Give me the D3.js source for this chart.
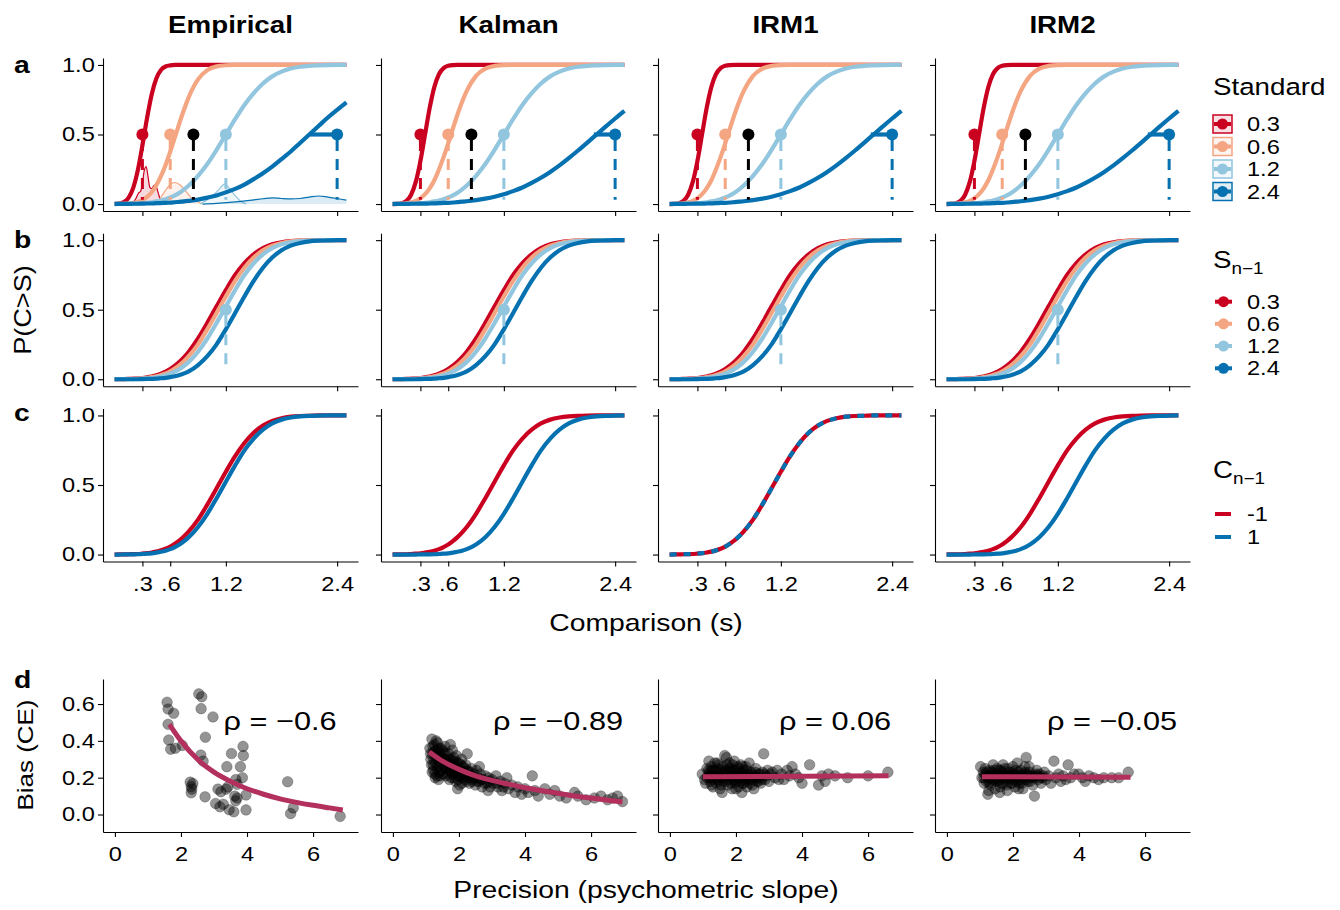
<!DOCTYPE html>
<html>
<head>
<meta charset="utf-8">
<script src="https://cdn.jsdelivr.net/npm/d3@7"></script>
<style>
  body { margin: 0; background: #fff; }
  svg text { font-family: "Liberation Sans", Arial, Helvetica, sans-serif; fill: #000; }
  .axis path, .axis line { stroke: #000; stroke-width: 1.1; }
</style>
</head>
<body>
<svg id="chart" width="1340" height="910"></svg>
<script>
// ---- data ----
const models = ["Empirical", "Kalman", "IRM1", "IRM2"];
const rowLetters = ["a", "b", "c", "d"];
const standards = [0.3, 0.6, 1.2, 2.4];
const standardLabels = ["0.3", "0.6", "1.2", "2.4"];
const stdTickLabels = [".3", ".6", "1.2", "2.4"];
const prevLabels = ["-1", "1"];
const palette = ["#ca0020", "#f4a582", "#92c5de", "#0571b0"];
const geoMean = 0.85; // black reference point

// comparison durations where the curves were sampled
const comparison = [0, 0.05, 0.1, 0.15, 0.2, 0.25, 0.3, 0.35, 0.4, 0.45, 0.5, 0.55, 0.6, 0.65, 0.7, 0.75, 0.8,
  0.9, 1.0, 1.1, 1.2, 1.3, 1.4, 1.5, 1.6, 1.7, 1.8, 1.9, 2.0, 2.1, 2.2, 2.3, 2.4, 2.5];

// row a, empirical P(C>S) per standard
const pEmp03 = [0.001, 0.003, 0.014, 0.045, 0.115, 0.242, 0.421, 0.618, 0.788, 0.903, 0.964, 0.989, 0.997, 1, 1, 1, 1,
  1, 1, 1, 1, 1, 1, 1, 1, 1, 1, 1, 1, 1, 1, 1, 1, 1];
const pEmp06 = [0, 0.001, 0.002, 0.004, 0.008, 0.015, 0.029, 0.052, 0.085, 0.135, 0.2, 0.281, 0.376, 0.479, 0.583, 0.681, 0.769,
  0.896, 0.963, 0.99, 0.998, 1, 1, 1, 1, 1, 1, 1, 1, 1, 1, 1, 1, 1];
const pEmp12 = [0, 0.001, 0.001, 0.002, 0.003, 0.004, 0.006, 0.009, 0.013, 0.019, 0.026, 0.035, 0.048, 0.063, 0.082, 0.106, 0.133,
  0.203, 0.288, 0.39, 0.5, 0.61, 0.712, 0.797, 0.867, 0.918, 0.952, 0.974, 0.987, 0.994, 0.997, 0.999, 1, 1];
const pEmp24 = [0.001, 0.001, 0.001, 0.001, 0.002, 0.002, 0.003, 0.004, 0.004, 0.006, 0.007, 0.009, 0.01, 0.013, 0.016, 0.019, 0.023,
  0.032, 0.046, 0.062, 0.084, 0.109, 0.14, 0.179, 0.221, 0.269, 0.323, 0.378, 0.439, 0.5, 0.561, 0.622, 0.677, 0.731];

// row a, model fits (same for Kalman, IRM1, IRM2)
const pMod03 = [0, 0.001, 0.006, 0.023, 0.067, 0.159, 0.309, 0.5, 0.691, 0.841, 0.933, 0.977, 0.994, 0.999, 1, 1, 1,
  1, 1, 1, 1, 1, 1, 1, 1, 1, 1, 1, 1, 1, 1, 1, 1, 1];
const pMod06 = [0, 0.001, 0.003, 0.006, 0.012, 0.023, 0.041, 0.071, 0.113, 0.171, 0.248, 0.337, 0.436, 0.542, 0.644, 0.736, 0.813,
  0.922, 0.974, 0.993, 0.999, 1, 1, 1, 1, 1, 1, 1, 1, 1, 1, 1, 1, 1];
const pMod24 = [0.001, 0.001, 0.001, 0.001, 0.002, 0.002, 0.003, 0.003, 0.004, 0.005, 0.006, 0.008, 0.009, 0.011, 0.014, 0.017, 0.02,
  0.028, 0.039, 0.053, 0.071, 0.093, 0.119, 0.152, 0.189, 0.231, 0.278, 0.33, 0.385, 0.442, 0.5, 0.558, 0.615, 0.67];

// PSE (curve at 0.5) per standard
const pseEmp = [0.32, 0.66, 1.2, 2.11];
const pseMod = [0.35, 0.63, 1.2, 2.17];

// row b, split by previous standard S(n-1)
const pPrev03 = [0.001, 0.001, 0.001, 0.002, 0.004, 0.006, 0.009, 0.014, 0.02, 0.028, 0.039, 0.054, 0.073, 0.097, 0.125, 0.159, 0.198,
  0.293, 0.405, 0.524, 0.641, 0.749, 0.834, 0.898, 0.943, 0.97, 0.985, 0.993, 0.997, 0.999, 1, 1, 1, 1];
const pPrev06 = [0, 0.001, 0.001, 0.002, 0.003, 0.004, 0.007, 0.01, 0.015, 0.021, 0.03, 0.042, 0.057, 0.078, 0.102, 0.131, 0.166,
  0.251, 0.359, 0.476, 0.595, 0.707, 0.802, 0.875, 0.927, 0.961, 0.98, 0.991, 0.996, 0.998, 1, 1, 1, 1];
const pPrev12 = [0, 0, 0.001, 0.001, 0.001, 0.002, 0.004, 0.006, 0.009, 0.014, 0.02, 0.028, 0.039, 0.054, 0.073, 0.097, 0.125,
  0.198, 0.293, 0.405, 0.524, 0.641, 0.749, 0.834, 0.898, 0.943, 0.97, 0.985, 0.993, 0.997, 0.999, 1, 1, 1];
const pPrev24 = [0, 0, 0, 0, 0, 0, 0.001, 0.002, 0.003, 0.004, 0.007, 0.01, 0.015, 0.021, 0.03, 0.042, 0.057,
  0.102, 0.166, 0.251, 0.359, 0.476, 0.595, 0.707, 0.802, 0.875, 0.927, 0.961, 0.98, 0.991, 0.996, 0.998, 1, 1];

// row c, split by previous choice C(n-1)
const pEmpNeg = [0, 0.001, 0.001, 0.002, 0.003, 0.004, 0.007, 0.01, 0.015, 0.021, 0.03, 0.042, 0.057, 0.078, 0.102, 0.131, 0.166,
  0.251, 0.359, 0.476, 0.595, 0.707, 0.802, 0.875, 0.927, 0.961, 0.98, 0.991, 0.996, 0.998, 1, 1, 1, 1];
const pEmpPos = [0, 0, 0.001, 0.001, 0.001, 0.002, 0.004, 0.006, 0.009, 0.014, 0.02, 0.028, 0.039, 0.054, 0.073, 0.097, 0.125,
  0.198, 0.293, 0.405, 0.524, 0.641, 0.749, 0.834, 0.898, 0.943, 0.97, 0.985, 0.993, 0.997, 0.999, 1, 1, 1];
const pKalNeg = [0.001, 0.001, 0.001, 0.002, 0.004, 0.006, 0.009, 0.014, 0.02, 0.028, 0.039, 0.054, 0.073, 0.097, 0.125, 0.159, 0.198,
  0.293, 0.405, 0.524, 0.641, 0.749, 0.834, 0.898, 0.943, 0.97, 0.985, 0.993, 0.997, 0.999, 1, 1, 1, 1];
const pKalPos = [0, 0, 0, 0, 0, 0, 0.001, 0.001, 0.001, 0.002, 0.004, 0.006, 0.009, 0.014, 0.02, 0.028, 0.039,
  0.073, 0.125, 0.198, 0.293, 0.405, 0.524, 0.641, 0.749, 0.834, 0.898, 0.943, 0.97, 0.985, 0.993, 0.997, 0.999, 1];
const pIrm1Both = [0, 0.001, 0.001, 0.002, 0.003, 0.004, 0.007, 0.01, 0.015, 0.021, 0.03, 0.042, 0.057, 0.078, 0.102, 0.131, 0.166,
  0.251, 0.359, 0.476, 0.595, 0.707, 0.802, 0.875, 0.927, 0.961, 0.98, 0.991, 0.996, 0.998, 1, 1, 1, 1];

// empirical PSE densities (row a, empirical panel)
const densX03 = [0.19, 0.23, 0.26, 0.28, 0.3, 0.32, 0.34, 0.36, 0.38, 0.4, 0.42, 0.44, 0.47, 0.5, 0.54];
const densY03 = [0, 0.04, 0.08, 0.09, 0.15, 0.24, 0.27, 0.2, 0.12, 0.11, 0.13, 0.14, 0.08, 0.02, 0];
const densX06 = [0.42, 0.48, 0.54, 0.6, 0.65, 0.7, 0.76, 0.82, 0.88, 0.95];
const densY06 = [0, 0.03, 0.09, 0.14, 0.155, 0.14, 0.1, 0.05, 0.02, 0];
const densX12 = [0.92, 1.0, 1.06, 1.12, 1.19, 1.24, 1.3, 1.36, 1.42];
const densY12 = [0, 0.03, 0.06, 0.1, 0.145, 0.11, 0.06, 0.02, 0];
const densX24 = [0.95, 1.1, 1.3, 1.5, 1.6, 1.7, 1.8, 1.9, 2.0, 2.1, 2.2, 2.3, 2.4, 2.5];
const densY24 = [0, 0.005, 0.015, 0.03, 0.038, 0.045, 0.04, 0.037, 0.04, 0.05, 0.058, 0.05, 0.04, 0.028];

// row d, precision (slope) vs bias (CE) per participant / simulation
const empPoints = [[1.58, 0.61], [1.61, 0.573], [1.78, 0.55], [1.61, 0.49], [1.63, 0.405], [1.69, 0.355], [1.83, 0.36],
  [2.04, 0.375], [2.54, 0.655], [2.63, 0.64], [2.61, 0.575], [2.97, 0.53], [2.74, 0.42], [2.6, 0.323], [2.67, 0.29],
  [2.28, 0.176], [2.36, 0.168], [2.31, 0.152], [2.33, 0.138], [2.31, 0.118], [2.73, 0.096], [3.12, 0.138], [3.21, 0.124],
  [3.37, 0.138], [3.42, 0.15], [3.53, 0.331], [3.39, 0.26], [3.8, 0.26], [3.89, 0.32], [3.88, 0.37], [3.66, 0.19],
  [3.86, 0.2], [3.7, 0.164], [3.63, 0.1], [3.7, 0.09], [3.66, 0.075], [3.97, 0.106], [3.05, 0.06], [3.18, 0.042],
  [3.28, 0.056], [3.46, 0.026], [3.6, 0.015], [3.97, 0.025], [5.23, 0.178], [5.4, 0.036], [5.32, 0.005], [6.82, -0.01]];
const kalPoints = [[1.12, 0.36], [1.15, 0.3], [1.18, 0.41], [1.2, 0.33], [1.22, 0.27], [1.25, 0.38], [1.27, 0.22], [1.3, 0.35],
  [1.32, 0.31], [1.35, 0.39], [1.37, 0.26], [1.4, 0.33], [1.42, 0.29], [1.45, 0.36], [1.47, 0.24], [1.5, 0.31], [1.28, 0.2],
  [1.38, 0.19], [1.43, 0.21], [1.52, 0.34], [1.55, 0.28], [1.58, 0.37], [1.6, 0.25], [1.62, 0.3], [1.65, 0.22], [1.68, 0.33],
  [1.7, 0.27], [1.72, 0.24], [1.75, 0.3], [1.78, 0.2], [1.8, 0.35], [1.83, 0.26], [1.85, 0.23], [1.88, 0.29], [1.9, 0.18],
  [1.92, 0.32], [1.95, 0.25], [1.98, 0.21], [2.0, 0.28], [2.02, 0.16], [2.05, 0.24], [2.08, 0.3], [2.1, 0.2], [2.13, 0.26],
  [2.15, 0.22], [2.18, 0.19], [2.2, 0.27], [1.74, 0.38], [2.25, 0.33], [1.96, 0.14], [2.28, 0.23], [2.32, 0.17], [2.35, 0.21],
  [2.38, 0.25], [2.42, 0.19], [2.45, 0.22], [2.5, 0.16], [2.53, 0.24], [2.57, 0.2], [2.6, 0.18], [2.65, 0.22], [2.7, 0.15],
  [2.74, 0.19], [2.8, 0.21], [2.85, 0.17], [2.9, 0.2], [2.95, 0.15], [3.0, 0.19], [2.62, 0.26], [2.88, 0.13], [3.05, 0.17],
  [3.12, 0.21], [3.18, 0.15], [3.25, 0.18], [3.3, 0.13], [3.38, 0.17], [3.45, 0.2], [3.5, 0.14], [3.6, 0.16], [3.7, 0.12],
  [3.78, 0.15], [3.9, 0.11], [4.0, 0.14], [4.1, 0.12], [4.22, 0.21], [4.3, 0.13], [4.4, 0.1], [4.6, 0.14], [4.75, 0.11],
  [4.9, 0.13], [5.05, 0.1], [5.25, 0.09], [5.5, 0.12], [5.6, 0.1], [5.85, 0.08], [6.1, 0.09], [6.3, 0.1], [6.5, 0.08],
  [6.65, 0.09], [6.8, 0.1], [6.95, 0.07],
  [1.14, 0.33], [1.17, 0.27], [1.21, 0.37], [1.24, 0.3], [1.26, 0.34], [1.29, 0.28], [1.31, 0.4], [1.34, 0.25], [1.36, 0.32],
  [1.39, 0.36], [1.41, 0.23], [1.44, 0.31], [1.46, 0.27], [1.49, 0.35], [1.51, 0.22], [1.54, 0.3], [1.57, 0.26], [1.59, 0.33],
  [1.61, 0.21], [1.64, 0.28], [1.66, 0.25], [1.69, 0.3], [1.71, 0.19], [1.73, 0.27], [1.76, 0.23], [1.79, 0.29], [1.81, 0.22],
  [1.84, 0.31], [1.86, 0.2], [1.89, 0.26], [1.91, 0.23], [1.94, 0.28], [1.97, 0.19], [1.99, 0.24], [2.03, 0.21], [2.06, 0.27],
  [2.09, 0.17], [2.12, 0.23], [2.16, 0.25], [2.19, 0.21], [2.22, 0.18], [2.26, 0.24], [2.3, 0.2], [2.34, 0.23], [2.4, 0.18],
  [2.47, 0.2], [2.55, 0.18], [2.68, 0.19], [2.78, 0.17], [2.93, 0.18], [3.15, 0.17], [3.35, 0.15], [1.23, 0.24], [1.33, 0.21],
  [1.19, 0.23]];
const irm1Points = [[0.98, 0.22], [1.05, 0.19], [1.08, 0.17], [1.12, 0.25], [1.15, 0.21], [1.18, 0.29], [1.2, 0.23], [1.22, 0.18],
  [1.25, 0.26], [1.28, 0.2], [1.3, 0.15], [1.33, 0.24], [1.36, 0.28], [1.38, 0.21], [1.4, 0.17], [1.43, 0.25], [1.45, 0.19],
  [1.48, 0.27], [1.5, 0.22], [1.52, 0.14], [1.55, 0.2], [1.58, 0.12], [1.6, 0.26], [1.63, 0.23], [1.66, 0.32], [1.68, 0.18],
  [1.71, 0.31], [1.73, 0.21], [1.76, 0.16], [1.78, 0.25], [1.8, 0.28], [1.83, 0.19], [1.86, 0.23], [1.88, 0.14], [1.9, 0.27],
  [1.93, 0.21], [1.95, 0.29], [1.98, 0.17], [2.0, 0.24], [2.03, 0.2], [2.05, 0.26], [2.08, 0.15], [2.1, 0.22], [2.13, 0.18],
  [2.15, 0.27], [2.18, 0.12], [2.2, 0.21], [2.23, 0.24], [2.25, 0.17], [2.28, 0.2], [2.3, 0.26], [2.33, 0.15], [2.36, 0.22],
  [2.4, 0.28], [2.43, 0.19], [2.46, 0.23], [2.5, 0.16], [2.54, 0.14], [2.57, 0.21], [2.6, 0.25], [2.63, 0.18], [2.67, 0.22],
  [2.7, 0.2], [2.75, 0.17], [2.8, 0.23], [2.84, 0.33], [2.88, 0.19], [2.92, 0.21], [2.96, 0.24], [3.0, 0.18], [3.05, 0.22],
  [3.1, 0.23], [3.18, 0.2], [3.25, 0.24], [3.3, 0.19], [3.38, 0.22], [3.45, 0.19], [3.55, 0.24], [3.62, 0.21], [3.7, 0.26],
  [3.8, 0.22], [3.9, 0.2], [4.0, 0.17], [4.23, 0.27], [4.5, 0.16], [4.6, 0.21], [4.7, 0.18], [4.8, 0.22], [5.0, 0.21],
  [5.38, 0.2], [6.0, 0.21], [6.6, 0.23],
  [1.13, 0.2], [1.17, 0.24], [1.21, 0.2], [1.24, 0.22], [1.27, 0.24], [1.31, 0.19], [1.35, 0.21], [1.39, 0.24], [1.42, 0.2],
  [1.46, 0.22], [1.49, 0.18], [1.53, 0.24], [1.57, 0.2], [1.61, 0.18], [1.65, 0.22], [1.69, 0.24], [1.72, 0.19], [1.75, 0.23],
  [1.79, 0.21], [1.82, 0.25], [1.85, 0.17], [1.89, 0.2], [1.92, 0.24], [1.96, 0.19], [1.99, 0.22], [2.02, 0.18], [2.06, 0.21],
  [2.09, 0.25], [2.12, 0.2], [2.16, 0.23], [2.19, 0.17], [2.22, 0.2], [2.26, 0.22], [2.29, 0.18], [2.32, 0.24], [2.35, 0.19],
  [2.39, 0.21], [2.42, 0.17], [2.45, 0.2], [2.49, 0.22], [2.53, 0.19], [2.58, 0.23], [2.62, 0.2], [2.68, 0.18], [2.73, 0.22],
  [2.78, 0.19], [2.86, 0.22], [1.26, 0.16], [1.55, 0.16], [1.74, 0.27], [2.0, 0.14], [2.2, 0.26], [1.44, 0.28]];
const irm2Points = [[1.02, 0.26], [1.06, 0.2], [1.1, 0.23], [1.13, 0.17], [1.16, 0.25], [1.2, 0.21], [1.24, 0.11], [1.26, 0.19],
  [1.3, 0.24], [1.33, 0.16], [1.36, 0.22], [1.4, 0.27], [1.43, 0.19], [1.46, 0.14], [1.49, 0.22], [1.52, 0.25], [1.55, 0.18],
  [1.58, 0.21], [1.61, 0.15], [1.64, 0.24], [1.67, 0.2], [1.7, 0.27], [1.73, 0.17], [1.76, 0.22], [1.8, 0.19], [1.83, 0.13],
  [1.86, 0.25], [1.9, 0.21], [1.93, 0.17], [1.96, 0.23], [2.0, 0.26], [2.03, 0.19], [2.06, 0.15], [2.1, 0.22], [2.13, 0.28],
  [2.16, 0.2], [2.2, 0.17], [2.23, 0.24], [2.26, 0.21], [2.3, 0.14], [2.33, 0.19], [2.36, 0.26], [2.4, 0.31], [2.43, 0.22],
  [2.46, 0.18], [2.5, 0.23], [2.55, 0.2], [2.6, 0.16], [2.65, 0.1], [2.68, 0.21], [2.72, 0.24], [2.76, 0.19], [2.8, 0.22],
  [2.85, 0.17], [2.9, 0.2], [2.95, 0.23], [3.0, 0.19], [3.08, 0.21], [3.15, 0.17], [3.24, 0.29], [3.3, 0.2], [3.38, 0.22],
  [3.45, 0.18], [3.52, 0.21], [3.6, 0.19], [3.67, 0.27], [3.75, 0.2], [3.85, 0.22], [3.99, 0.22], [4.1, 0.2], [4.19, 0.18],
  [4.3, 0.21], [4.45, 0.2], [4.59, 0.19], [4.75, 0.2], [4.99, 0.2], [5.2, 0.2], [5.49, 0.23],
  [1.12, 0.2], [1.15, 0.22], [1.19, 0.18], [1.22, 0.23], [1.25, 0.21], [1.28, 0.17], [1.31, 0.2], [1.35, 0.23], [1.38, 0.19],
  [1.41, 0.21], [1.44, 0.24], [1.48, 0.18], [1.51, 0.2], [1.54, 0.22], [1.57, 0.24], [1.6, 0.19], [1.63, 0.21], [1.66, 0.17],
  [1.69, 0.23], [1.72, 0.2], [1.75, 0.25], [1.78, 0.21], [1.81, 0.16], [1.85, 0.2], [1.88, 0.23], [1.91, 0.19], [1.95, 0.21],
  [1.98, 0.17], [2.01, 0.22], [2.05, 0.2], [2.08, 0.24], [2.11, 0.18], [2.15, 0.21], [2.18, 0.23], [2.21, 0.19], [2.25, 0.2],
  [2.28, 0.17], [2.31, 0.22], [2.35, 0.2], [2.38, 0.23], [2.42, 0.19], [2.45, 0.21], [2.49, 0.26], [2.53, 0.18], [2.58, 0.21],
  [2.63, 0.2], [2.7, 0.22], [2.75, 0.21], [2.83, 0.2], [2.92, 0.21], [1.27, 0.13], [1.6, 0.12], [2.17, 0.14]];

// fitted relations (row d)
const fitEmpX = [1.65, 2, 2.5, 3, 3.5, 4, 4.5, 5, 5.5, 6, 6.5, 6.9];
const fitEmpY = [0.49, 0.4, 0.3, 0.23, 0.18, 0.14, 0.11, 0.085, 0.066, 0.05, 0.036, 0.025];
const fitKalX = [1.1, 1.5, 2, 2.5, 3, 3.5, 4, 4.5, 5, 5.5, 6, 6.5, 6.95];
const fitKalY = [0.34, 0.29, 0.245, 0.21, 0.185, 0.165, 0.145, 0.13, 0.115, 0.1, 0.09, 0.078, 0.068];
const fitIrm1X = [1.0, 6.62];
const fitIrm1Y = [0.205, 0.21];
const fitIrm2X = [1.06, 5.56];
const fitIrm2Y = [0.205, 0.203];
const rhoLabels = ["ρ = −0.6", "ρ = −0.89", "ρ = 0.06", "ρ = −0.05"];

// ---- layout ----
const svg = d3.select("#chart");
const SX = 1.18; // the original font is a bit wider than Liberation Sans
const colLeft = [103, 381, 658, 935];
const panelW = 255, panelH = 153;
const rowTop = [58, 233.2, 408.5];
const rowDTop = 679;
const lineW = 4.2;

function label(g, x, y, str, o = {}) {
  return g.append("text")
    .attr("transform", `translate(${x},${y})${o.rotate ? " rotate(-90)" : ""} scale(${SX},1)`)
    .attr("text-anchor", o.anchor || "start")
    .style("font-size", (o.size || 20) + "px")
    .style("font-weight", o.bold ? "bold" : null)
    .text(str);
}

function axes(g, x, y, xTicks, yTicks, xFmt, yFmt) {
  const bottom = g.append("g").attr("class", "axis")
    .attr("transform", `translate(0,${y.range()[0]})`)
    .call(d3.axisBottom(x).tickValues(xTicks).tickSize(5).tickSizeOuter(0).tickPadding(10).tickFormat(xFmt));
  const left = g.append("g").attr("class", "axis")
    .attr("transform", `translate(${x.range()[0]},0)`)
    .call(d3.axisLeft(y).tickValues(yTicks).tickSize(5).tickSizeOuter(0).tickPadding(2).tickFormat(yFmt));
  [bottom, left].forEach((a) => {
    a.attr("font-size", null).attr("font-family", null);
    a.selectAll("text").style("font-size", "20px").attr("transform", `scale(${SX},1)`);
  });
}

const noLabel = () => "";

models.forEach((model, ci) => {
  const x = d3.scaleLinear().domain([-0.125, 2.625]).range([colLeft[ci], colLeft[ci] + panelW]);

  // column title
  label(svg, colLeft[ci] + panelW / 2, 33, model, { anchor: "middle", size: 23.5, bold: true });

  rowTop.forEach((top, ri) => {
    const y = d3.scaleLinear().domain([-0.05, 1.05]).range([top + panelH, top]);
    const g = svg.append("g");
    axes(g, x, y, standards, [0, 0.5, 1],
      ri === 2 ? (d, i) => stdTickLabels[i] : noLabel,
      ci === 0 ? d3.format(".1f") : noLabel);

    const line = d3.line().x((d, i) => x(comparison[i])).y((d) => y(d)).curve(d3.curveMonotoneX);
    const drawCurve = (vals, color, dash) => g.append("path")
      .attr("d", line(vals)).attr("fill", "none").attr("stroke", color)
      .attr("stroke-width", lineW).attr("stroke-linejoin", "round")
      .attr("stroke-dasharray", dash || null);
    const dashed = (xv, color, yTop, yBot) => g.append("line")
      .attr("x1", x(xv)).attr("x2", x(xv)).attr("y1", y(yTop)).attr("y2", y(yBot))
      .attr("stroke", color).attr("stroke-width", 3).attr("stroke-dasharray", "11,8");
    const dot = (xv, color) => g.append("circle")
      .attr("cx", x(xv)).attr("cy", y(0.5)).attr("r", 6).attr("fill", color);

    if (ri === 0) {
      if (ci === 0) {
        const dens = [[densX03, densY03], [densX06, densY06], [densX12, densY12], [densX24, densY24]];
        dens.forEach(([dx, dy], k) => {
          const area = d3.area().x((d, i) => x(dx[i])).y0(y(0)).y1((d) => y(d)).curve(d3.curveMonotoneX);
          g.append("path").attr("d", area(dy)).attr("fill", palette[k]).attr("fill-opacity", 0.14);
          const dl = d3.line().x((d, i) => x(dx[i])).y((d) => y(d)).curve(d3.curveMonotoneX);
          g.append("path").attr("d", dl(dy)).attr("fill", "none").attr("stroke", palette[k]).attr("stroke-width", 1.2);
        });
      }
      const curves = ci === 0 ? [pEmp03, pEmp06, pEmp12, pEmp24] : [pMod03, pMod06, pEmp12, pMod24];
      const pse = ci === 0 ? pseEmp : pseMod;
      curves.forEach((c, k) => drawCurve(c, palette[k]));
      standards.forEach((s, k) => dashed(s, palette[k], 0.46, 0.03));
      dashed(geoMean, "#000", 0.46, 0.03);
      standards.forEach((s, k) => {
        g.append("line").attr("x1", x(s)).attr("x2", x(pse[k])).attr("y1", y(0.5)).attr("y2", y(0.5))
          .attr("stroke", palette[k]).attr("stroke-width", lineW);
        dot(s, palette[k]);
      });
      dot(geoMean, "#000");
    } else if (ri === 1) {
      [pPrev03, pPrev06, pPrev12, pPrev24].forEach((c, k) => drawCurve(c, palette[k]));
      dashed(standards[2], palette[2], 0.46, 0.06);
      dot(standards[2], palette[2]);
    } else {
      const pairs = [[pEmpNeg, pEmpPos], [pKalNeg, pKalPos], [pIrm1Both, pIrm1Both], [pKalNeg, pKalPos]];
      drawCurve(pairs[ci][0], palette[0]);
      drawCurve(pairs[ci][1], palette[3], ci === 2 ? "7,7" : null);
    }
  });

  // row d: precision vs bias
  const xd = d3.scaleLinear().domain([-0.36, 7.36]).range([colLeft[ci], colLeft[ci] + panelW]);
  const yd = d3.scaleLinear().domain([-0.095, 0.736]).range([rowDTop + panelH, rowDTop]);
  const gd = svg.append("g");
  axes(gd, xd, yd, [0, 2, 4, 6], [0, 0.2, 0.4, 0.6], d3.format("d"), ci === 0 ? d3.format(".1f") : noLabel);
  const pts = [empPoints, kalPoints, irm1Points, irm2Points][ci];
  gd.selectAll("circle").data(pts).join("circle")
    .attr("cx", (d) => xd(d[0])).attr("cy", (d) => yd(d[1])).attr("r", 5.3)
    .attr("fill", "#000").attr("fill-opacity", 0.42)
    .attr("stroke", "#000").attr("stroke-opacity", 0.3).attr("stroke-width", 0.8);
  const fx = [fitEmpX, fitKalX, fitIrm1X, fitIrm2X][ci];
  const fy = [fitEmpY, fitKalY, fitIrm1Y, fitIrm2Y][ci];
  const fit = d3.line().x((d, i) => xd(fx[i])).y((d) => yd(d)).curve(d3.curveMonotoneX);
  gd.append("path").attr("d", fit(fy)).attr("fill", "none").attr("stroke", "#b3305e").attr("stroke-width", 5);
  label(gd, xd(5), yd(0.515) + 10, rhoLabels[ci], { anchor: "middle", size: 26 });
});

// row letters and axis titles
[73, 248, 421, 688].forEach((yy, i) => label(svg, 14, yy, rowLetters[i], { size: 24, bold: true }));
label(svg, 31, 310, "P(C>S)", { rotate: true, anchor: "middle", size: 23 });
label(svg, 33, 755, "Bias (CE)", { rotate: true, anchor: "middle", size: 22 });
label(svg, 646, 631, "Comparison (s)", { anchor: "middle", size: 24 });
label(svg, 646, 898, "Precision (psychometric slope)", { anchor: "middle", size: 24 });

// ---- legends ----
const lg = svg.append("g");
label(lg, 1213, 95, "Standard", { size: 23.5 });
[124, 146.5, 169, 191.5].forEach((cy, k) => {
  lg.append("rect").attr("x", 1213).attr("y", cy - 9).attr("width", 19).attr("height", 18)
    .attr("fill", palette[k]).attr("fill-opacity", 0.12).attr("stroke", palette[k]).attr("stroke-width", 1.5);
  lg.append("line").attr("x1", 1214).attr("x2", 1231).attr("y1", cy).attr("y2", cy)
    .attr("stroke", palette[k]).attr("stroke-width", 4);
  lg.append("circle").attr("cx", 1222.5).attr("cy", cy).attr("r", 5.5).attr("fill", palette[k]);
  label(lg, 1247, cy + 7, standardLabels[k]);
});

const sTitle = label(lg, 1213, 268, "S", { size: 23.5 });
sTitle.append("tspan").attr("dy", 6).style("font-size", "16px").text("n−1");
[301.7, 323.8, 346, 368.3].forEach((cy, k) => {
  lg.append("line").attr("x1", 1215).attr("x2", 1232).attr("y1", cy).attr("y2", cy)
    .attr("stroke", palette[k]).attr("stroke-width", 4);
  lg.append("circle").attr("cx", 1223.5).attr("cy", cy).attr("r", 5.5).attr("fill", palette[k]);
  label(lg, 1247, cy + 7, standardLabels[k]);
});

const cTitle = label(lg, 1213, 478, "C", { size: 23.5 });
cTitle.append("tspan").attr("dy", 6).style("font-size", "16px").text("n−1");
[514, 537].forEach((cy, k) => {
  lg.append("line").attr("x1", 1215).attr("x2", 1231).attr("y1", cy).attr("y2", cy)
    .attr("stroke", k === 0 ? palette[0] : palette[3]).attr("stroke-width", 4);
  label(lg, 1247, cy + 7, prevLabels[k]);
});
</script>
</body>
</html>
